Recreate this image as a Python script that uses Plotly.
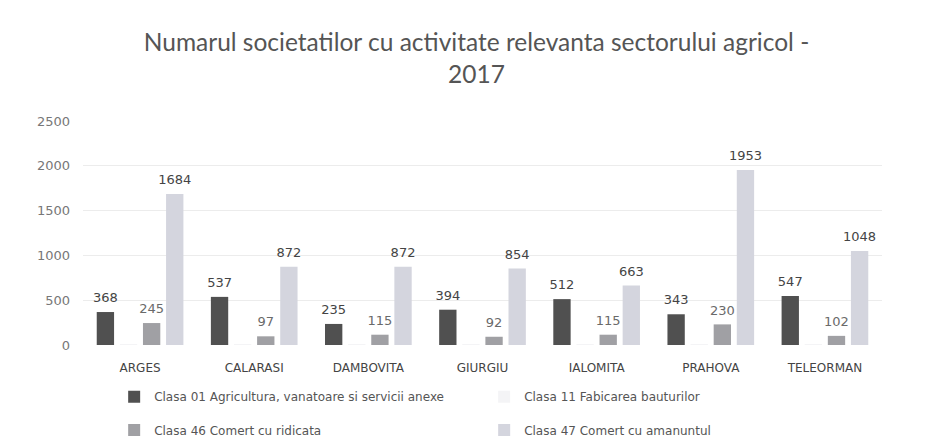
import plotly.graph_objects as go

categories = ["ARGES", "CALARASI", "DAMBOVITA", "GIURGIU", "IALOMITA", "PRAHOVA", "TELEORMAN"]
clasa01 = [368, 537, 235, 394, 512, 343, 547]
clasa11 = [4, 3, 3, 2, 3, 6, 2]
clasa46 = [245, 97, 115, 92, 115, 230, 102]
clasa47 = [1684, 872, 872, 854, 663, 1953, 1048]

names = [
    "Clasa 01 Agricultura, vanatoare si servicii anexe",
    "Clasa 11 Fabicarea bauturilor",
    "Clasa 46 Comert cu ridicata",
    "Clasa 47 Comert cu amanuntul",
]
colors = ["#505050", "#f4f4f6", "#a0a0a4", "#d4d5de"]
label_colors = ["#444444", "rgba(0,0,0,0)", "#6a6a6a", "#444444"]
legends = ["legend", "legend", "legend2", "legend2"]
series = [clasa01, clasa11, clasa46, clasa47]

FONT = "DejaVu Sans"

fig = go.Figure()
for i, (name, vals, col, lg) in enumerate(zip(names, series, colors, legends)):
    fig.add_trace(go.Bar(
        x=categories, y=vals, name=name, legend=lg,
        marker=dict(color=col, line=dict(width=0)),
        offsetgroup=str(i),
    ))
for i, (vals, lc) in enumerate(zip(series, label_colors)):
    fig.add_trace(go.Scatter(
        x=categories, y=vals, mode="markers+text", showlegend=False,
        text=[str(v) for v in vals], textposition="top center",
        textfont=dict(size=13, color=lc, family=FONT),
        marker=dict(size=9, color="rgba(0,0,0,0)"),
        offsetgroup=str(i), cliponaxis=False, hoverinfo="skip",
    ))

leg_common = dict(
    orientation="h", x=0.039, xanchor="left", yanchor="middle",
    entrywidth=325, font=dict(size=12, color="#555555", family=FONT),
    itemwidth=30, bgcolor="rgba(0,0,0,0)",
)
fig.update_layout(
    width=937, height=448,
    barmode="group", bargap=0.19, bargroupgap=0.25,
    scattermode="group", scattergap=0.19,
    paper_bgcolor="white", plot_bgcolor="white",
    margin=dict(l=75, r=63, t=113, b=101),
    font=dict(family=FONT, color="#444444"),
    title=dict(
        text="Numarul societatilor cu activitate relevanta sectorului agricol -<br>2017",
        x=0.5, xanchor="center", y=0.903, yanchor="top",
        font=dict(size=24.5, color="#555555", family="Lato"),
    ),
    legend=dict(y=-0.231, **leg_common),
    legend2=dict(y=-0.380, **leg_common),
)
fig.update_xaxes(
    showgrid=False, showline=False, ticks="",
    tickfont=dict(size=12, color="#444444", family=FONT), ticklabelstandoff=14,
)
fig.update_yaxes(
    range=[0, 2500], dtick=500, showgrid=True, gridcolor="#ececec",
    zeroline=False, showline=False, ticks="",
    tickfont=dict(size=13, color="#777777", family=FONT), ticklabelstandoff=12,
)

fig.write_html("out.html")
